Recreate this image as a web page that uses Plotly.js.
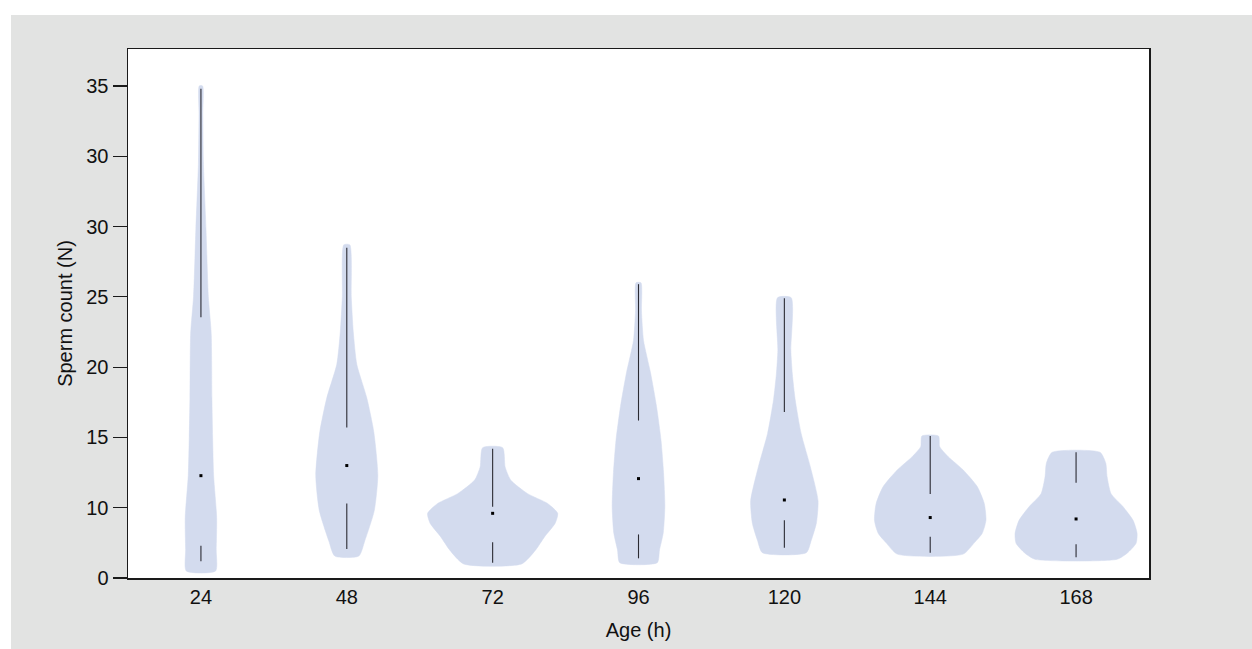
<!DOCTYPE html>
<html>
<head>
<meta charset="utf-8">
<script src="https://cdn.plot.ly/plotly-3.0.1.min.js"></script>
<style>
  html, body { margin: 0; padding: 0; background: #ffffff; width: 1252px; height: 649px; overflow: hidden; }
  #chart { position: absolute; left: 11px; top: 15px; width: 1241px; height: 634px; }
</style>
</head>
<body>
<div id="chart"></div>
<script>
// ---- categories and axis labels ----
const ages = ['24', '48', '72', '96', '120', '144', '168'];
const yTickPos = [0, 5, 10, 15, 20, 25, 30, 35];
const yTickText = ['0', '10', '15', '20', '25', '30', '30', '35'];

// ---- violin outlines: sample levels (y) and relative density (half-width, 1 = widest) ----
const levels24 = [0.5, 2.0, 4.3, 7.3, 10.0, 12.8, 17.4, 20.0, 24.8, 29.6, 33.0, 35.0];
const dens24   = [0.226, 0.235, 0.242, 0.195, 0.180, 0.169, 0.158, 0.114, 0.078, 0.038, 0.029, 0.026];
const levels48 = [1.56, 2.65, 4.8, 7.3, 10.4, 12.8, 15.2, 17.5, 20.0, 23.7];
const dens48   = [0.185, 0.277, 0.423, 0.477, 0.415, 0.308, 0.154, 0.100, 0.069, 0.046];
const levels72 = [1.0, 2.0, 2.94, 3.9, 4.6, 5.3, 6.0, 6.97, 7.9, 9.27];
const dens72   = [0.446, 0.662, 0.800, 0.962, 1.000, 0.846, 0.538, 0.277, 0.192, 0.154];
const levels96 = [1.09, 2.0, 3.2, 5.1, 7.5, 9.8, 12.2, 14.6, 16.9, 19.0, 21.0];
const dens96   = [0.288, 0.323, 0.380, 0.405, 0.385, 0.346, 0.277, 0.185, 0.077, 0.046, 0.038];
const levels120 = [1.8, 2.7, 3.9, 5.5, 7.9, 10.3, 12.7, 14.5, 16.2, 19.94];
const dens120   = [0.338, 0.415, 0.492, 0.518, 0.400, 0.257, 0.166, 0.123, 0.100, 0.105];
const levels144 = [1.7, 2.5, 3.18, 4.1, 5.3, 6.5, 7.68, 8.63, 9.34, 10.1];
const dens144   = [0.508, 0.677, 0.800, 0.857, 0.831, 0.723, 0.508, 0.277, 0.146, 0.128];
const levels168 = [1.33, 1.76, 2.47, 3.18, 4.1, 5.07, 6.0, 7.2, 8.16, 8.94];
const dens168   = [0.631, 0.785, 0.923, 0.938, 0.877, 0.723, 0.538, 0.477, 0.457, 0.369];

// ---- inner summary: lower whisker, q1, median, q3, upper whisker ----
const whiskerLow  = [1.2, 2.06, 1.09, 1.4, 2.16, 1.8, 1.47];
const q1          = [2.29, 5.3, 2.54, 3.1, 4.1, 2.94, 2.4];
const median      = [7.28, 8.0, 4.6, 7.07, 5.55, 4.3, 4.2];
const q3          = [18.55, 10.7, 5.07, 11.2, 11.8, 5.97, 6.78];
const whiskerHigh = [34.8, 23.5, 9.2, 20.9, 19.9, 10.1, 8.94];

const levels = [levels24, levels48, levels72, levels96, levels120, levels144, levels168];
const dens = [dens24, dens48, dens72, dens96, dens120, dens144, dens168];

const maxHalfWidth = 0.446; // in category units
const fontFam = "'Liberation Sans Narrow', 'Arial Narrow', 'Liberation Sans', Arial, sans-serif";

const traces = [];
ages.forEach((a, i) => {
  const ys = levels[i], ds = dens[i];
  const x = [], y = [];
  for (let k = 0; k < ys.length; k++) { x.push(i + ds[k] * maxHalfWidth); y.push(ys[k]); }
  for (let k = ys.length - 1; k >= 0; k--) { x.push(i - ds[k] * maxHalfWidth); y.push(ys[k]); }
  x.push(x[0]); y.push(y[0]);
  traces.push({
    type: 'scatter', mode: 'lines', x: x, y: y,
    fill: 'toself', fillcolor: '#d3dbee',
    line: { color: '#d3dbee', width: 0.5, shape: 'spline', smoothing: 0.6 },
    hoverinfo: 'skip', name: a
  });
});

// whisker segments
const wx = [], wy = [];
ages.forEach((a, i) => {
  wx.push(i, i, null, i, i, null);
  wy.push(whiskerLow[i], q1[i], null, q3[i], whiskerHigh[i], null);
});
traces.push({
  type: 'scatter', mode: 'lines', x: wx, y: wy,
  line: { color: '#2b2b33', width: 1.1 }, hoverinfo: 'skip', name: 'whiskers'
});
// medians
traces.push({
  type: 'scatter', mode: 'markers', x: ages.map((a, i) => i), y: median,
  marker: { color: '#000000', size: 3, symbol: 'square' }, name: 'median'
});

const layout = {
  width: 1241, height: 634,
  margin: { l: 117, r: 103, t: 34, b: 71 },
  paper_bgcolor: '#e2e3e2',
  plot_bgcolor: '#ffffff',
  showlegend: false,
  font: { family: fontFam, size: 20, color: '#111111' },
  xaxis: {
    range: [-0.5, 6.5], tickvals: ages.map((a, i) => i), ticktext: ages,
    showline: true, mirror: true, linecolor: '#1a1a1a', linewidth: 1.5,
    ticks: '', showgrid: false, zeroline: false,
    tickfont: { family: fontFam, size: 20, color: '#111111' },
    title: { text: 'Age (h)', font: { family: fontFam, size: 20, color: '#111111' }, standoff: 16 }
  },
  yaxis: {
    range: [0, 37.63], tickvals: yTickPos, ticktext: yTickText,
    showline: true, mirror: true, linecolor: '#1a1a1a', linewidth: 1.5,
    ticks: 'outside', ticklen: 14, tickwidth: 1.2, tickcolor: '#1a1a1a',
    showgrid: false, zeroline: false,
    tickfont: { family: fontFam, size: 20, color: '#111111' },
    title: { text: 'Sperm count (N)', font: { family: fontFam, size: 20, color: '#111111' }, standoff: 8 }
  }
};

Plotly.newPlot('chart', traces, layout, { displayModeBar: false, staticPlot: true });
</script>
</body>
</html>
